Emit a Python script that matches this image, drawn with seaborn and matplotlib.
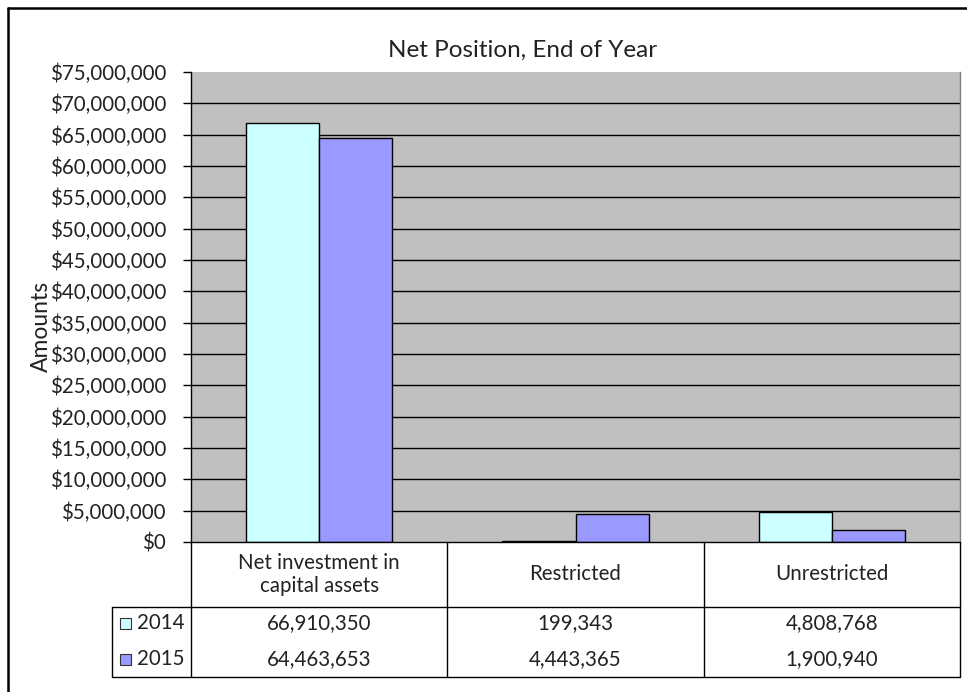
import matplotlib
matplotlib.use("Agg")
import matplotlib.pyplot as plt
import matplotlib.transforms as mtransforms
import seaborn as sns
import pandas as pd

# Net position values by category and fiscal year
categories = ["Net investment in\ncapital assets", "Restricted", "Unrestricted"]
years = ["2014", "2015"]
values_2014 = [66910350, 199343, 4808768]
values_2015 = [64463653, 4443365, 1900940]
y_ticks = list(range(0, 75000001, 5000000))
colors = {"2014": "#CCFFFF", "2015": "#9999FF"}

df = pd.DataFrame({
    "category": categories * 2,
    "year": [years[0]] * 3 + [years[1]] * 3,
    "value": values_2014 + values_2015,
})

sns.set_style("white")
plt.rcParams["font.family"] = ["Lato", "DejaVu Sans"]

W, H = 967, 692
fig = plt.figure(figsize=(W / 100, H / 100), dpi=100)
fig.patch.set_facecolor("white")
TXT = "#222222"
FS = 14.8


def fx(px):
    return px / W


def fy(py):
    return 1 - py / H


left, right, top, bottom = 191, 960, 72, 542
ax = fig.add_axes([fx(left), fy(bottom), fx(right) - fx(left), fy(top) - fy(bottom)])
ax.set_facecolor("#C0C0C0")

sns.barplot(data=df, x="category", y="value", hue="year", order=categories,
            hue_order=years, palette=colors, saturation=1, edgecolor="black",
            linewidth=1, width=0.57, ax=ax, legend=False, zorder=3)

ax.set_ylim(0, 75000000)
ax.set_xlim(-0.5, len(categories) - 0.5)
ax.set_yticks(y_ticks)
ax.set_yticklabels([f"${v:,.0f}" for v in y_ticks], fontsize=FS, color=TXT)
ax.hlines(y_ticks[1:-1], -0.5, len(categories) - 0.5, colors="black", linewidth=1, zorder=1)
ax.tick_params(axis="y", direction="out", length=6, width=1, color="black", pad=12, left=True)
ax.tick_params(axis="x", bottom=False, labelbottom=False)
ax.set_xlabel("")
ax.set_ylabel("")

for name, sp in ax.spines.items():
    sp.set_visible(name in ("left", "right"))
ax.spines["left"].set_color("black")
ax.spines["left"].set_linewidth(1)
ax.spines["right"].set_color("#808080")
ax.spines["right"].set_linewidth(1)

ft = fig.transFigure
fig.text(fx(523), fy(50), "Net Position, End of Year", transform=ft,
         ha="center", va="center", fontsize=17.5, color=TXT)
fig.text(fx(41), fy(326), "Amounts", transform=ft, rotation=90, ha="center", va="center",
         fontsize=16.5, color=TXT)

# Data table beneath the plot area
tr = mtransforms.blended_transform_factory(ax.transData, fig.transFigure)
line_kw = dict(color="black", linewidth=1)
header_bottom, row_bottom = 607, 677
legend_left = 112
bounds = [i - 0.5 for i in range(len(categories) + 1)]

fig.add_artist(plt.Line2D([-0.5, 2.5], [fy(bottom), fy(bottom)], transform=tr, **line_kw))
for b in bounds:
    fig.add_artist(plt.Line2D([b, b], [fy(bottom), fy(row_bottom)], transform=tr, **line_kw))
for yy in (header_bottom, row_bottom):
    fig.add_artist(plt.Line2D([fx(legend_left), fx(right)], [fy(yy), fy(yy)], transform=ft, **line_kw))
fig.add_artist(plt.Line2D([fx(legend_left), fx(legend_left)], [fy(header_bottom), fy(row_bottom)],
                          transform=ft, **line_kw))

for i, cat in enumerate(categories):
    fig.text(i, fy((bottom + header_bottom) / 2), cat, transform=tr, ha="center", va="center",
             fontsize=FS, color=TXT, linespacing=1.2)

row_y = [623, 659]
for yr, vals, ry in zip(years, [values_2014, values_2015], row_y):
    fig.add_artist(plt.Rectangle((fx(120), fy(ry + 6)), fx(11), 11 / H, transform=ft,
                                 facecolor=colors[yr], edgecolor="#333333", linewidth=0.8))
    fig.text(fx(137), fy(ry), yr, transform=ft, ha="left", va="center", fontsize=FS, color=TXT)
    for i, v in enumerate(vals):
        fig.text(i, fy(ry), f"{v:,}", transform=tr, ha="center", va="center",
                 fontsize=FS, color=TXT)

# Outer chart frame (top and left edges)
fig.add_artist(plt.Line2D([fx(8), 1], [fy(8), fy(8)], transform=ft, color="black", linewidth=1.8))
fig.add_artist(plt.Line2D([fx(8), fx(8)], [fy(8), 0], transform=ft, color="black", linewidth=1.8))

fig.savefig("out.png", dpi=100, facecolor="white")
